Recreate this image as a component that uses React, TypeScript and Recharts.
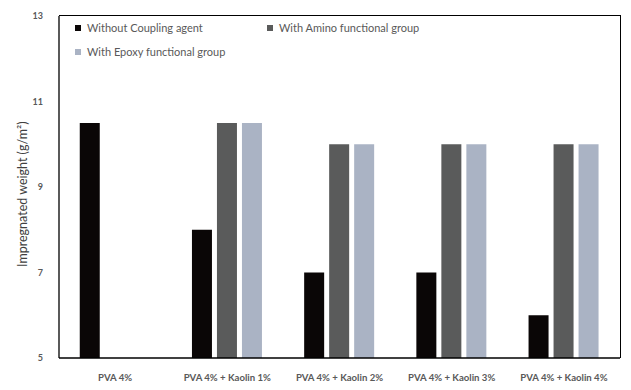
import { BarChart, Bar, XAxis, YAxis } from "recharts";

const categories = [
  "PVA 4%",
  "PVA 4% + Kaolin 1%",
  "PVA 4% + Kaolin 2%",
  "PVA 4% + Kaolin 3%",
  "PVA 4% + Kaolin 4%",
];
const withoutCoupling = [10.5, 8, 7, 7, 6];
const withAmino = [null, 10.5, 10, 10, 10];
const withEpoxy = [null, 10.5, 10, 10, 10];
const yTicks = [5, 7, 9, 11, 13];

const series = [
  { key: "without", name: "Without Coupling agent", color: "#0a0606" },
  { key: "amino", name: "With Amino functional group", color: "#5a5b5b" },
  { key: "epoxy", name: "With Epoxy functional group", color: "#aab3c4" },
];

const data = categories.map((c, i) => ({
  name: c,
  without: withoutCoupling[i],
  amino: withAmino[i],
  epoxy: withEpoxy[i],
}));

const FONT = "Lato, 'Open Sans', sans-serif";
const W = 631;
const H = 390;
const M = { top: 16, right: 11, bottom: 0, left: 0 };
const Y_W = 59;
const X_H = 32;

// legend drawn as an overlay so it does not shrink the plot area
const LegendBox = () => (
  <div style={{ position: "absolute", left: 75, top: 21, fontFamily: FONT, fontSize: 11, color: "#595959" }}>
    {series.map((s, i) => (
      <div
        key={s.key}
        style={{
          position: "absolute",
          left: (i % 2) * 192,
          top: Math.floor(i / 2) * 24,
          display: "flex",
          alignItems: "center",
          whiteSpace: "nowrap",
        }}
      >
        <span style={{ display: "inline-block", width: 6, height: 6, background: s.color, marginRight: 6 }} />
        {s.name}
      </div>
    ))}
  </div>
);

export default function App() {
  return (
    <div style={{ position: "absolute", left: 0, top: 0, width: W, height: H, background: "#fff" }}>
      <BarChart width={W} height={H} data={data} margin={M} barCategoryGap="18.5%" barGap={5}>
        <XAxis
          dataKey="name"
          height={X_H}
          axisLine={{ stroke: "#000", strokeWidth: 1.3 }}
          tickLine={false}
          tick={{ fill: "#595959", fontSize: 9.6, fontWeight: 700, fontFamily: FONT }}
          tickMargin={10}
        />
        <YAxis
          width={Y_W}
          domain={[5, 13]}
          ticks={yTicks}
          allowDataOverflow
          axisLine={{ stroke: "#000", strokeWidth: 1.3 }}
          tickLine={false}
          tick={{ fill: "#595959", fontSize: 9, fontWeight: 700, fontFamily: FONT }}
          tickMargin={10}
          label={{
            value: "Impregnated weight (g/m²)",
            angle: -90,
            position: "insideLeft",
            dx: 18,
            dy: 80,
            style: { fill: "#404040", fontSize: 12.5, fontFamily: FONT },
          }}
        />
        {series.map((s) => (
          <Bar key={s.key} dataKey={s.key} name={s.name} fill={s.color} isAnimationActive={false} />
        ))}
      </BarChart>
      {/* top and right edges of the plot frame */}
      <div
        style={{
          position: "absolute",
          left: Y_W,
          top: M.top - 1,
          width: W - M.right - Y_W + 1,
          height: H - X_H - M.top + 1,
          boxSizing: "border-box",
          borderTop: "1px solid #000",
          borderRight: "1px solid #000",
          pointerEvents: "none",
        }}
      />
      <LegendBox />
    </div>
  );
}
